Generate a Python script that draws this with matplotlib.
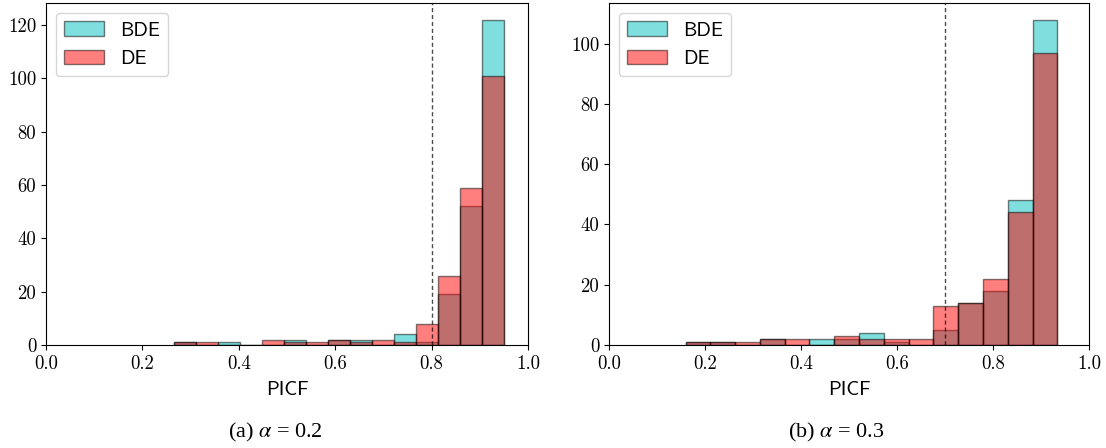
import numpy as np
import matplotlib
matplotlib.use("Agg")
import matplotlib.pyplot as plt

# ---- data (counts per bin) ----
left_range = (0.2656, 0.9503)
left_bde = [1, 0, 1, 0, 0, 2, 0, 2, 2, 0, 4, 1, 19, 52, 122]
left_de = [1, 1, 0, 0, 2, 1, 1, 2, 1, 2, 1, 8, 26, 59, 101]
left_threshold = 0.8

right_range = (0.1595, 0.934)
right_bde = [1, 1, 0, 2, 0, 2, 2, 4, 1, 0, 5, 14, 18, 48, 108]
right_de = [1, 1, 1, 2, 2, 0, 3, 2, 2, 2, 13, 14, 22, 44, 97]
right_threshold = 0.7

series_labels = ["BDE", "DE"]
xlabel = "PICF"
captions = ["(a) $\\alpha$ = 0.2", "(b) $\\alpha$ = 0.3"]
xticks = [0.0, 0.2, 0.4, 0.6, 0.8, 1.0]

plt.rcParams["mathtext.fontset"] = "stix"

fig = plt.figure(figsize=(11.06, 4.48), dpi=100)
ax_left = fig.add_axes([46 / 1106, 103 / 448, 482 / 1106, 341.7 / 448])
ax_right = fig.add_axes([609 / 1106, 103 / 448, 480 / 1106, 341.7 / 448])

panels = [
    (ax_left, left_range, left_bde, left_de, left_threshold),
    (ax_right, right_range, right_bde, right_de, right_threshold),
]

for ax, rng, bde, de, thr in panels:
    edges = np.linspace(rng[0], rng[1], len(bde) + 1)
    centers = (edges[:-1] + edges[1:]) / 2
    ax.hist(centers, bins=edges, weights=bde, color="c", alpha=0.5,
            edgecolor="k", linewidth=1.0, label=series_labels[0])
    ax.hist(centers, bins=edges, weights=de, color="r", alpha=0.5,
            edgecolor="k", linewidth=1.0, label=series_labels[1])
    ax.axvline(thr, color="k", linestyle=(0, (3, 2)), linewidth=1.0, alpha=0.7)
    ax.set_xlim(0, 1)
    ax.set_xticks(xticks)
    ax.set_xticklabels([f"{t:.1f}" for t in xticks])
    ax.tick_params(labelsize=13.5)
    for lab in ax.get_xticklabels() + ax.get_yticklabels():
        lab.set_fontfamily("cmr10")
    ax.set_xlabel(xlabel, fontfamily="cmss10", fontsize=14.5, labelpad=6)
    leg = ax.legend(loc="upper left", prop={"family": "cmss10", "size": 14.5})

fig.text(275 / 1106, 1 - 432 / 448, captions[0], ha="center", va="center",
         fontsize=16, family="Liberation Serif")
fig.text(836 / 1106, 1 - 432 / 448, captions[1], ha="center", va="center",
         fontsize=16, family="Liberation Serif")

fig.savefig("out.png", dpi=100)
